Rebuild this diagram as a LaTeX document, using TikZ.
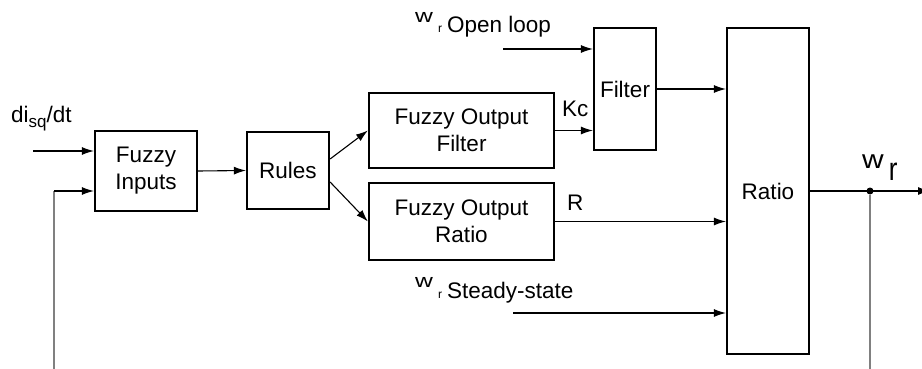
\documentclass[tikz,border=0pt]{standalone}
\usepackage{fontspec}
\usepackage{graphicx}
\setmainfont{Liberation Sans}
\usetikzlibrary{arrows.meta}
\begin{document}
\begin{tikzpicture}[x=1pt,y=-1pt,
  box/.style={draw, line width=2.2pt, inner sep=0pt, align=center, font=\fontsize{22.5}{27}\selectfont},
  arr/.style={-{Latex[length=12pt,width=8pt]}, line width=1.1pt},
  fbline/.style={line width=1.6pt, draw=gray},
  lbl/.style={inner sep=0pt, font=\fontsize{22.5}{27}\selectfont},
]
\useasboundingbox (0,0) rectangle (922,369);
\clip (0,0) rectangle (922,369);

% boxes
\node[box, minimum width=102pt, minimum height=80pt] (fin) at (146,171) {Fuzzy\\Inputs};
\node[box, minimum width=82pt, minimum height=77pt] (rules) at (288,170.5) {Rules};
\node[box, minimum width=185pt, minimum height=75pt] (fof) at (461.5,130.5) {Fuzzy Output\\Filter};
\node[box, minimum width=185pt, minimum height=77pt] (for) at (461.5,221.5) {Fuzzy Output\\Ratio};
\node[box, minimum width=62pt, minimum height=122pt] (filt) at (625,89) {Filter};
\node[box, minimum width=82pt, minimum height=326pt] (ratio) at (768,191) {Ratio};

% inputs
\coordinate (in1) at (33,151);
\draw[arr] (in1) -- (in1 -| fin.west);
\coordinate (fb) at (54,375);
\coordinate (fbt) at (54,191);
\draw[fbline] (fb) -- (fbt);
\draw[arr] (fbt) -- (fbt -| fin.west);

\draw[arr] (fin.east) -- (rules.west);
\draw[arr] ([yshift=11.5pt]rules.east) -- (fof.west);
\draw[arr] ([yshift=-11.5pt]rules.east) -- (for.west);

\draw[arr] (fof.east) -- (fof.east -| filt.west);
\coordinate (ol) at (503,49);
\draw[arr] (ol) -- (ol -| filt.west);
\draw[arr] (filt.east) -- (filt.east -| ratio.west);
\draw[arr] (for.east) -- (for.east -| ratio.west);
\coordinate (ss) at (513,313);
\draw[arr] (ss) -- (ss -| ratio.west);

% output
\coordinate (out) at (930,191);
\draw[arr] (ratio.east) -- (out);
\node[circle, fill, inner sep=0pt, minimum size=7pt] (dot) at (870,191) {};
\coordinate (fb2) at (870,375);
\draw[fbline] (dot) -- (fb2);

% labels
\node[lbl, anchor=base west] (dlab) at (11,123) {di\raisebox{-4.5pt}{\fontsize{17}{17}\selectfont sq}/dt};
\node[lbl, anchor=base west] (kc) at (562,117) {Kc};
\node[lbl, anchor=base west] (rl) at (567,210) {R};
\node[lbl, anchor=base west] (ollab) at (415,33) {\raisebox{10pt}{\scalebox{1.3}[1]{\fontsize{19}{19}\selectfont w}}\hspace{5pt}{\fontsize{12}{12}\selectfont r}\hspace{5pt}Open loop};
\node[lbl, anchor=base west] (sslab) at (415,298) {\raisebox{11pt}{\scalebox{1.3}[1]{\fontsize{19}{19}\selectfont w}}\hspace{5pt}{\fontsize{12}{12}\selectfont r}\hspace{5pt}Steady-state};
\node[lbl, anchor=base west] (wr) at (862,180) {\raisebox{12pt}{\scalebox{1.15}[1]{\fontsize{26}{26}\selectfont w}}\hspace{5pt}\scalebox{1}[1.25]{\fontsize{26}{26}\selectfont r}};
\end{tikzpicture}
\end{document}
